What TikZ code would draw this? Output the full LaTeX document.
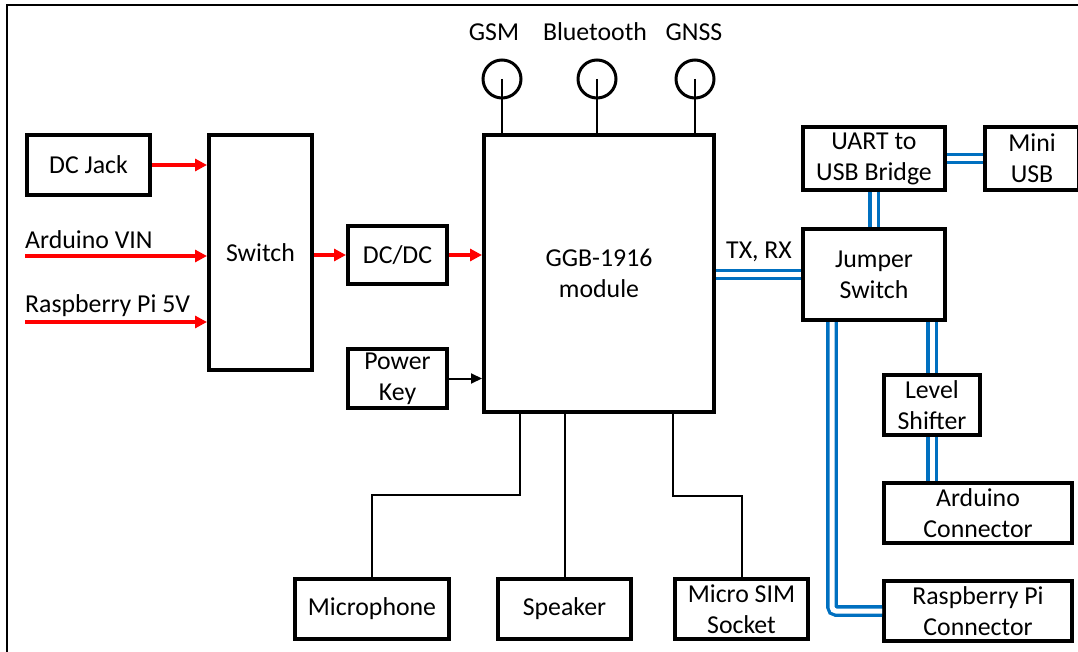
\documentclass[tikz,border=0pt]{standalone}
\usepackage{fontspec}
\setmainfont{Carlito}
\usetikzlibrary{arrows.meta}
\definecolor{lineblue}{RGB}{0,112,192}
\definecolor{pwrred}{RGB}{255,0,0}
\begin{document}
\begin{tikzpicture}[x=1pt,y=-1pt,
  box/.style={draw, line width=3.6pt, inner sep=0pt, align=center, font=\fontsize{25.8}{31}\selectfont},
  lbl/.style={inner sep=0pt, font=\fontsize{25.8}{31}\selectfont},
  pwr/.style={draw=pwrred, line width=4pt, -{Triangle[length=12pt,width=12pt]}},
  sig/.style={draw=black, line width=2pt},
  bus/.style={draw=lineblue, double=white, line width=3.3pt, double distance=5pt},
  ant/.style={circle, draw, line width=3pt, minimum size=38pt, inner sep=0pt}]
\useasboundingbox (0,0) rectangle (1078,652);
\clip (0,0) rectangle (1078,652);
% frame
\draw[line width=2pt] (7,700) -- (7,5) -- (1100,5);

% boxes
\node[box, minimum width=123.4pt, minimum height=60.4pt] (dcjack) at (88.5,165) {DC Jack};
\node[box, minimum width=103.4pt, minimum height=235.4pt] (switch) at (260.5,252.5) {Switch};
\node[box, minimum width=99.4pt, minimum height=58.4pt] (dcdc) at (397.5,255) {DC/DC};
\node[box, minimum width=99.4pt, minimum height=59.4pt] (pkey) at (397.5,378.5) {Power\\Key};
\node[box, minimum width=230.4pt, minimum height=277.4pt] (module) at (599,273.5) {GGB-1916\\module};
\node[box, minimum width=142.4pt, minimum height=63.4pt] (uart) at (874,158.5) {UART to\\USB Bridge};
\node[box, minimum width=94.4pt, minimum height=63.4pt] (miniusb) at (1032,158.5) {Mini\\USB};
\node[box, minimum width=142.4pt, minimum height=91.4pt] (jumper) at (874,274.5) {Jumper\\Switch};
\node[box, minimum width=96.4pt, minimum height=60.4pt] (level) at (932,405) {Level\\Shifter};
\node[box, minimum width=188.4pt, minimum height=60.4pt] (arduino) at (978,513) {Arduino\\Connector};
\node[box, minimum width=188.4pt, minimum height=60.4pt] (rpi) at (978,611) {Raspberry Pi\\Connector};
\node[box, minimum width=154.4pt, minimum height=60.4pt] (mic) at (372,609) {Microphone};
\node[box, minimum width=133.4pt, minimum height=60.4pt] (speaker) at (564.5,609) {Speaker};
\node[box, minimum width=133.4pt, minimum height=60.4pt] (sim) at (741.5,609) {Micro SIM\\Socket};

% antennas
\node[ant] (ant1) at (502,79) {};
\node[ant] (ant2) at (597,79) {};
\node[ant] (ant3) at (695,79) {};
\node[lbl] (lgsm) at (494,32) {GSM};
\node[lbl] (lbt) at (595,32) {Bluetooth};
\node[lbl] (lgnss) at (694,32) {GNSS};
\draw[line width=2.6pt] (ant1.center) -- (ant1 |- module.north);
\draw[line width=2.6pt] (ant2.center) -- (ant2 |- module.north);
\draw[line width=2.6pt] (ant3.center) -- (ant3 |- module.north);

% power inputs
\node[lbl, anchor=west] (lvin) at (25,240) {Arduino VIN};
\node[lbl, anchor=west] (lrpi) at (25,306) {Raspberry Pi 5V};
\coordinate (vin) at (25,256);
\coordinate (rpi5) at (25,322);
\draw[pwr] (dcjack.east) -- (dcjack.east -| switch.west);
\draw[pwr] (vin) -- (vin -| switch.west);
\draw[pwr] (rpi5) -- (rpi5 -| switch.west);
\draw[pwr] (switch.east |- dcdc.west) -- (dcdc.west);
\draw[pwr] (dcdc.east) -- (dcdc.east -| module.west);
\draw[sig, -{Triangle[length=11pt,width=10pt]}] (pkey.east) -- (pkey.east -| module.west);

% audio / sim
\draw[sig] (module.south -| 520,0) -- (520,495) -- (mic.north |- 0,495) -- (mic.north);
\draw[sig] (module.south -| speaker.north) -- (speaker.north);
\draw[sig] (module.south -| 673,0) -- (673,496) -- (sim.north |- 0,496) -- (sim.north);

% data buses
\draw[bus] (module.east |- jumper.west) -- (jumper.west);
\node[lbl] (ltx) at (759,252) {TX, RX};
\draw[bus] (uart.east) -- (miniusb.west);
\draw[bus] (uart.south) -- (jumper.north);
\draw[bus] (level.north |- jumper.south) -- (level.north);
\draw[bus] (level.south) -- (level.south |- arduino.north);
\draw[bus, rounded corners=4pt] (832,0 |- jumper.south) -- (832,611) -- (rpi.west);
\end{tikzpicture}
\end{document}
